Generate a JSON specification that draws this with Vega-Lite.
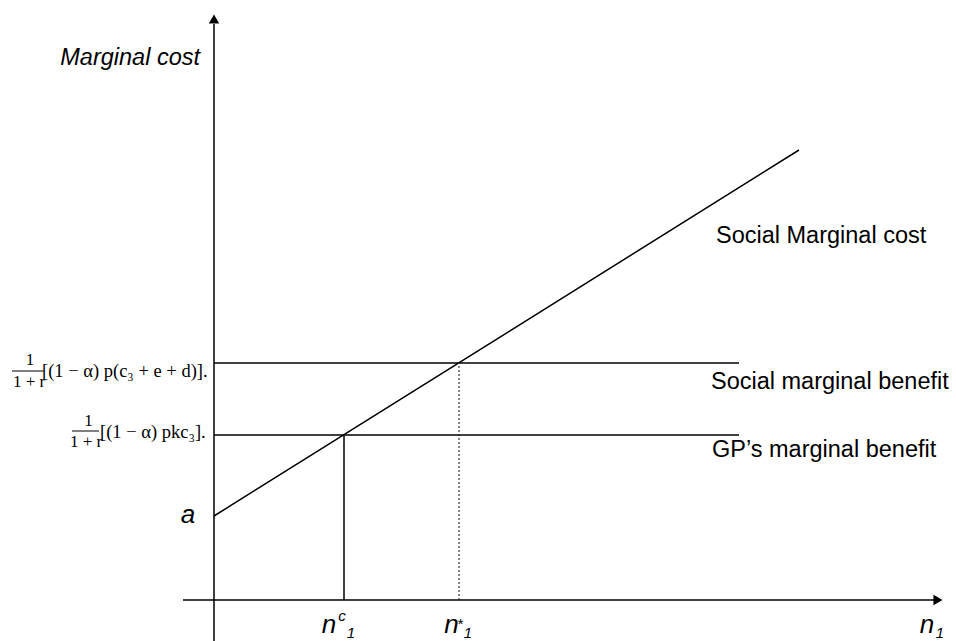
{
  "$schema": "https://vega.github.io/schema/vega-lite/v6.json",
  "width": 956,
  "height": 641,
  "padding": 0,
  "autosize": {"type": "none"},
  "background": "white",
  "config": {"view": {"stroke": null}},
  "datasets": {
    "curves": [
      {"name": "vertical axis", "x": 0, "y": -4.1, "x2": 0, "y2": 57.6},
      {"name": "horizontal axis", "x": -3.1, "y": 0, "x2": 72.3, "y2": 0},
      {"name": "Social Marginal cost", "x": 0, "y": 8.4, "x2": 58.5, "y2": 45.0},
      {"name": "Social marginal benefit", "x": 0, "y": 23.7, "x2": 52.5, "y2": 23.7},
      {"name": "GP's marginal benefit", "x": 0, "y": 16.5, "x2": 52.5, "y2": 16.5},
      {"name": "n c 1", "x": 13, "y": 0, "x2": 13, "y2": 16.5}
    ],
    "dotted": [
      {"name": "n* 1", "x": 24.5, "y": 0, "x2": 24.5, "y2": 23.7}
    ],
    "fractionBars": [
      {"name": "social", "x": -20.2, "y": 22.9, "x2": -17.0, "y2": 22.9},
      {"name": "gp", "x": -14.2, "y": 16.9, "x2": -11.5, "y2": 16.9}
    ],
    "arrows": [
      {"axis": "cost", "x": 0, "y": 58.1},
      {"axis": "n1", "x": 72.4, "y": 0}
    ],
    "curveLabels": [
      {"x": 50.2, "y": 35.7, "label": "Social Marginal cost"},
      {"x": 49.7, "y": 21.1, "label": "Social marginal benefit"},
      {"x": 49.8, "y": 14.3, "label": "GP’s marginal benefit"}
    ],
    "axisTitle": [
      {"x": -1.4, "y": 53.5, "label": "Marginal cost"}
    ],
    "symbols": [
      {"x": -2.6, "y": 7.7, "label": "a"},
      {"x": 11.5, "y": -3.3, "label": "n"},
      {"x": 23.75, "y": -3.3, "label": "n"},
      {"x": 71.3, "y": -3.3, "label": "n"}
    ],
    "scripts": [
      {"x": 12.8, "y": -2.1, "label": "c"},
      {"x": 13.7, "y": -3.8, "label": "1"},
      {"x": 24.6, "y": -2.9, "label": "*"},
      {"x": 25.4, "y": -3.8, "label": "1"},
      {"x": 72.6, "y": -3.8, "label": "1"}
    ],
    "fractions": [
      {"x": -18.4, "y": 23.5, "label": "1"},
      {"x": -18.5, "y": 21.3, "label": "1 + r"},
      {"x": -12.55, "y": 17.4, "label": "1"},
      {"x": -12.8, "y": 15.3, "label": "1 + r"}
    ],
    "brackets": [
      {"x": -17.2, "y": 22.3, "label": "[(1 − α) p(c₃ + e + d)]."},
      {"x": -11.4, "y": 16.2, "label": "[(1 − α) pkc₃]."}
    ]
  },
  "encoding": {
    "x": {"field": "x", "type": "quantitative", "axis": null, "scale": {"domain": [-21.4, 74.2], "nice": false, "zero": false}},
    "y": {"field": "y", "type": "quantitative", "axis": null, "scale": {"domain": [-4.1, 60], "nice": false, "zero": false}}
  },
  "layer": [
    {
      "data": {"name": "curves"},
      "mark": {"type": "rule", "color": "black", "strokeWidth": 1.5},
      "encoding": {"x2": {"field": "x2"}, "y2": {"field": "y2"}}
    },
    {
      "data": {"name": "dotted"},
      "mark": {"type": "rule", "color": "#333", "strokeWidth": 1.2, "strokeDash": [2, 2]},
      "encoding": {"x2": {"field": "x2"}, "y2": {"field": "y2"}}
    },
    {
      "data": {"name": "fractionBars"},
      "mark": {"type": "rule", "color": "black", "strokeWidth": 1},
      "encoding": {"x2": {"field": "x2"}, "y2": {"field": "y2"}}
    },
    {
      "data": {"name": "arrows"},
      "mark": {"type": "point", "filled": true, "color": "black", "opacity": 1, "size": 110},
      "encoding": {
        "shape": {"field": "axis", "type": "nominal", "legend": null, "scale": {"domain": ["cost", "n1"], "range": ["triangle-up", "triangle-right"]}}
      }
    },
    {
      "data": {"name": "curveLabels"},
      "mark": {"type": "text", "font": "Liberation Sans", "fontSize": 23.5, "align": "left", "baseline": "alphabetic", "color": "black"},
      "encoding": {"text": {"field": "label"}}
    },
    {
      "data": {"name": "axisTitle"},
      "mark": {"type": "text", "font": "Liberation Sans", "fontSize": 23.5, "fontStyle": "italic", "align": "right", "baseline": "alphabetic", "color": "black"},
      "encoding": {"text": {"field": "label"}}
    },
    {
      "data": {"name": "symbols"},
      "mark": {"type": "text", "font": "Liberation Sans", "fontSize": 26, "fontStyle": "italic", "align": "center", "baseline": "alphabetic", "color": "black"},
      "encoding": {"text": {"field": "label"}}
    },
    {
      "data": {"name": "scripts"},
      "mark": {"type": "text", "font": "Liberation Sans", "fontSize": 15, "fontStyle": "italic", "align": "center", "baseline": "alphabetic", "color": "black"},
      "encoding": {"text": {"field": "label"}}
    },
    {
      "data": {"name": "fractions"},
      "mark": {"type": "text", "font": "Liberation Serif", "fontSize": 17, "align": "center", "baseline": "alphabetic", "color": "black"},
      "encoding": {"text": {"field": "label"}}
    },
    {
      "data": {"name": "brackets"},
      "mark": {"type": "text", "font": "Liberation Serif", "fontSize": 18.5, "align": "left", "baseline": "alphabetic", "color": "black"},
      "encoding": {"text": {"field": "label"}}
    }
  ]
}
